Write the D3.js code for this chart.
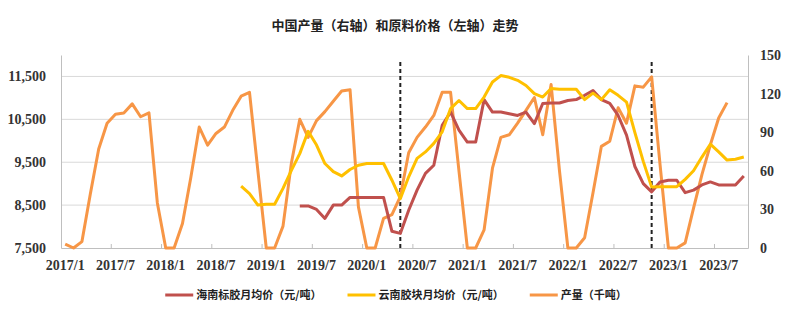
<!DOCTYPE html>
<html lang="zh">
<head>
    <meta charset="UTF-8">
    <title></title>
    <style type="text/css">
        html, body { padding:0; margin:0; background:#fff; }
        .tick text { font-family: "Liberation Serif", serif; font-size: 14px; font-weight: bold; fill: #333; }
        .cn { font-family: "Noto Sans CJK SC", sans-serif; font-weight: bold; fill: #222; }
    </style>
</head>
<body>
<script src="https://d3js.org/d3.v7.min.js"></script>
<script>
    // categories: monthly, 2017/1 .. 2023/10
    var months = [];
    for (var y = 2017; y <= 2023; y++) {
        for (var m = 1; m <= 12; m++) {
            if (y === 2023 && m > 10) break;
            months.push(y + '/' + m);
        }
    }

    // 产量（千吨）, right axis, starts 2017/1
    var output = [3, 0, 5, 42, 77, 97, 104, 105, 112, 102, 105, 35,
                  0, 0, 19, 55, 94, 80, 89, 94, 107, 118, 121, 60,
                  0, 0, 17, 66, 100, 86, 99, 106, 114, 122, 123, 32,
                  0, 0, 23, 26, 40, 74, 86, 94, 103, 121, 121, 60,
                  0, 0, 14, 62, 86, 88, 97, 107, 117, 88, 127, 60,
                  0, 0, 8, 43, 79, 83, 109, 97, 126, 125, 133, 65,
                  0, 0, 4, 31, 57, 80, 101, 113];

    // 云南胶块月均价（元/吨）, left axis, starts 2018/10
    var yunnanStart = '2018/10';
    var yunnan = [8940, 8770, 8500,
                  8520, 8520, 8890, 9310, 9700, 10220, 9900, 9470, 9280, 9180, 9330, 9430,
                  9470, 9470, 9470, 9080, 8650, 9160, 9590, 9740, 9940, 10210, 10750, 10940,
                  10750, 10750, 11020, 11370, 11520, 11480, 11410, 11290, 11100, 11020, 11220, 11200,
                  11200, 11200, 10960, 11110, 10960, 11190, 11060, 10900, 10190, 9520, 8920, 8930,
                  8930, 8930, 9100, 9300, 9620, 9920, 9740, 9550, 9570, 9620];

    // 海南标胶月均价（元/吨）, left axis, starts 2019/5
    var hainanStart = '2019/5';
    var hainan = [8480, 8480, 8400, 8190, 8500, 8500, 8680, 8680,
                  8680, 8680, 8680, 7890, 7840, 8380, 8850, 9240, 9430, 10360, 10670, 10250,
                  9970, 9970, 10960, 10670, 10670, 10630, 10590, 10670, 10400, 10870, 10880, 10880,
                  10940, 10960, 11060, 11170, 10960, 10870, 10590, 10130, 9400, 9000, 8810, 9040,
                  9080, 9080, 8790, 8850, 8970, 9040, 8970, 8970, 8970, 9180];

    var leftTicks = [7500, 8500, 9500, 10500, 11500];
    var rightTicks = [0, 30, 60, 90, 120, 150];
    var markers = ['2020/5', '2022/11'];

    var legendItems = [
        { name: '海南标胶月均价（元/吨）', color: '#C0504D' },
        { name: '云南胶块月均价（元/吨）', color: '#FFC000' },
        { name: '产量（千吨）', color: '#F79646' }
    ];

    var W = 794, H = 312;
    var margin = { left: 61, right: 46, top: 55, bottom: 64 };

    var svg = d3.select('body').append('svg')
        .attr('width', W)
        .attr('height', H);

    var x = d3.scaleBand().domain(months).range([margin.left, W - margin.right]);
    var yL = d3.scaleLinear().domain([7500, 12000]).range([H - margin.bottom, margin.top]);
    var yR = d3.scaleLinear().domain([0, 150]).range([H - margin.bottom, margin.top]);
    var cx = function(m) { return x(m) + x.bandwidth() / 2; };

    // title
    svg.append('text')
        .attr('class', 'cn')
        .attr('x', 395).attr('y', 30)
        .attr('text-anchor', 'middle')
        .style('font-size', '13px')
        .text('中国产量（右轴）和原料价格（左轴）走势');

    // grid
    svg.append('g').selectAll('line')
        .data(leftTicks.slice(1))
        .enter().append('line')
        .attr('x1', margin.left).attr('x2', W - margin.right)
        .attr('y1', function(d) { return yL(d); })
        .attr('y2', function(d) { return yL(d); })
        .attr('stroke', '#D9D9D9');

    // axes
    var gl = svg.append('g')
        .attr('transform', 'translate(' + margin.left + ',0)')
        .call(d3.axisLeft(yL).tickValues(leftTicks).tickSize(0).tickPadding(15).tickFormat(d3.format(',')));
    var gr = svg.append('g')
        .attr('transform', 'translate(' + (W - margin.right) + ',0)')
        .call(d3.axisRight(yR).tickValues(rightTicks).tickSize(0).tickPadding(12));
    var gb = svg.append('g')
        .attr('transform', 'translate(0,' + (H - margin.bottom) + ')')
        .call(d3.axisBottom(x).tickValues(months.filter(function(d, i) { return i % 6 === 0; }))
            .tickSize(0).tickPadding(12));
    [gl, gr, gb].forEach(function(g) { g.select('.domain').attr('stroke', '#BFBFBF'); });

    svg.append('g').selectAll('line')
        .data(months.filter(function(d, i) { return i > 0 && i % 6 === 0; }))
        .enter().append('line')
        .attr('x1', function(d) { return x(d); })
        .attr('x2', function(d) { return x(d); })
        .attr('y1', H - margin.bottom)
        .attr('y2', H - margin.bottom - 4)
        .attr('stroke', '#BFBFBF');

    // dashed markers
    svg.append('g').selectAll('line')
        .data(markers)
        .enter().append('line')
        .attr('x1', cx).attr('x2', cx)
        .attr('y1', margin.top + 7)
        .attr('y2', H - margin.bottom)
        .attr('stroke', '#222')
        .attr('stroke-width', 2)
        .attr('stroke-dasharray', '4,3');

    function series(values, start, scale, color) {
        var i0 = months.indexOf(start);
        var pts = values.map(function(v, i) { return [months[i0 + i], v]; });
        svg.append('path')
            .datum(pts)
            .attr('fill', 'none')
            .attr('stroke', color)
            .attr('stroke-width', 3)
            .attr('stroke-linejoin', 'round')
            .attr('d', d3.line()
                .x(function(d) { return cx(d[0]); })
                .y(function(d) { return scale(d[1]); }));
    }

    series(output, '2017/1', yR, legendItems[2].color);
    series(hainan, hainanStart, yL, legendItems[0].color);
    series(yunnan, yunnanStart, yL, legendItems[1].color);

    // legend
    var lg = svg.append('g').attr('transform', 'translate(0,295)');
    var items = lg.selectAll('g').data(legendItems).enter().append('g');
    items.append('line')
        .attr('x1', 0).attr('x2', 28)
        .attr('stroke', function(d) { return d.color; })
        .attr('stroke-width', 3);
    items.append('text')
        .attr('class', 'cn')
        .attr('x', 31).attr('dy', '0.35em')
        .style('font-size', '11px')
        .text(function(d) { return d.name; });
    var pos = 0, widths = [];
    items.each(function() { widths.push(this.getBBox().width); });
    var total = d3.sum(widths) + 26 * (widths.length - 1);
    pos = 396 - total / 2;
    items.attr('transform', function(d, i) {
        var p = pos;
        pos += widths[i] + 26;
        return 'translate(' + p + ',0)';
    });
</script>
</body>
</html>
